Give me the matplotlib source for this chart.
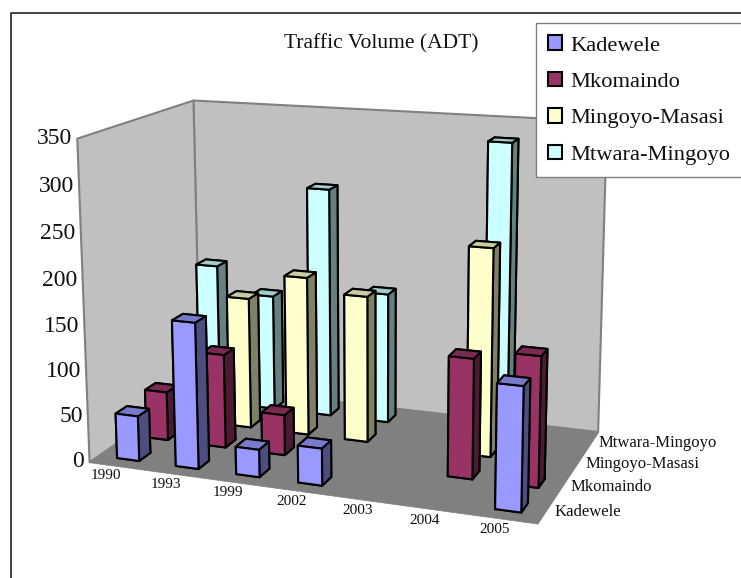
import numpy as np
import matplotlib
matplotlib.use("Agg")
import matplotlib.pyplot as plt
from matplotlib.patches import Patch
from matplotlib.lines import Line2D
from mpl_toolkits.mplot3d.art3d import Poly3DCollection

plt.rcParams['font.family'] = ['Liberation Serif', 'DejaVu Serif']

years = ['1990', '1993', '1999', '2002', '2003', '2004', '2005']
roads = ['Kadewele', 'Mkomaindo', 'Mingoyo-Masasi', 'Mtwara-Mingoyo']
z_ticks = [0, 50, 100, 150, 200, 250, 300, 350]

# ADT per year, 0 means no count that year
kadewele = [50, 160, 30, 40, 0, 0, 130]
mkomaindo = [55, 105, 45, 0, 0, 130, 140]
mingoyo_masasi = [0, 150, 180, 165, 0, 230, 0]
mtwara_mingoyo = [165, 135, 265, 0, 150, 330, 0]
mtwara_mingoyo = [165, 135, 265, 150, 0, 330, 0]

front_colors = ['#9999FF', '#993366', '#FFFFCC', '#CCFFFF']
top_colors = ['#7A7ACC', '#7A2952', '#CCCCA3', '#A3CCCC']
side_colors = ['#4D4D80', '#4D1A33', '#808066', '#668080']

W, H = 741, 578
n_x, n_y, z_max = len(years), len(roads), z_ticks[-1]

# camera anchors: box corner (x, y, z) -> pixel position on the page
world_pts = np.array([
    [0, 0, 0], [n_x, 0, 0], [n_x, n_y, 0], [0, n_y, 0],
    [0, 0, z_max], [0, n_y, z_max], [n_x, n_y, z_max],
    [0, 0, 200], [0, 0, 100], [n_x, 1, 0], [n_x, 2, 0], [n_x, 3, 0],
], dtype=float)
pixel_pts = np.array([
    [89, 463], [537, 523], [598, 433], [200.5, 384.5],
    [77.5, 138], [193, 101], [607, 121.5],
    [83.3, 281], [86, 373], [555, 497], [569.7, 475], [584.7, 453],
], dtype=float)


def fit_camera(world, pixel):
    # plain DLT, z scaled down so the system is not badly conditioned
    scale = np.diag([1, 1, 1 / 50, 1])
    rows = []
    for (x, y, z), (u, v) in zip(world, pixel):
        p = scale @ [x, y, z, 1]
        rows.append(np.r_[p, np.zeros(4), -u * p])
        rows.append(np.r_[np.zeros(4), p, -v * p])
    cam = np.linalg.svd(np.array(rows))[2][-1].reshape(3, 4) @ scale
    centre = np.array([n_x / 2, n_y / 2, 0, 1])
    return cam / (cam[2] @ centre)


fig = plt.figure(figsize=(W / 100, H / 100), dpi=100)
# mplot3d forces a square panel, so make it as wide as the page
ax = fig.add_axes([0, -(W - H) / 2 / H, 1, W / H], projection='3d', computed_zorder=False)
ax.set_axis_off()
ax.patch.set_alpha(0)

cam = fit_camera(world_pts, pixel_pts)
vl = ax.viewLim
page_to_view = np.array([
    [vl.width / W, 0, vl.x0],
    [0, -vl.height / W, vl.y0 + (H + (W - H) / 2) / W * vl.height],
    [0, 0, 1],
])
view_cam = page_to_view @ cam
proj = np.vstack([view_cam[0], view_cam[1], view_cam[2] - [0, 0, 0, 0.5], view_cam[2]])
ax.get_proj = lambda: proj

# walls and floor
floor = [[(0, 0, 0), (n_x, 0, 0), (n_x, n_y, 0), (0, n_y, 0)]]
left_wall = [[(0, 0, 0), (0, n_y, 0), (0, n_y, z_max), (0, 0, z_max)]]
back_wall = [[(0, n_y, 0), (n_x, n_y, 0), (n_x, n_y, z_max), (0, n_y, z_max)]]
ax.add_collection3d(Poly3DCollection(left_wall + back_wall, facecolor='#C0C0C0',
                                     edgecolor='#808080', linewidth=1.5, zorder=1))
ax.add_collection3d(Poly3DCollection(floor, facecolor='#808080', edgecolor='#808080',
                                     linewidth=0.5, zorder=2))

# gridlines along both walls
for v in z_ticks[1:-1]:
    ax.plot([0, 0, n_x], [0, n_y, n_y], [v, v, v], color='black', lw=1, zorder=3)

# axis lines and ticks
ax.plot([0, 0], [0, 0], [0, z_max], color='#222222', lw=1.2, zorder=4)
ax.plot([0, n_x, n_x], [0, 0, n_y], [0, 0, 0], color='black', lw=1.2, zorder=4)
for v in z_ticks:
    ax.plot([-0.06, 0], [0, 0], [v, v], color='black', lw=1, zorder=4)
    ax.text(-0.09, 0, v, str(v), fontsize=17, ha='right', va='center', color='#111111')
for i, year in enumerate(years):
    ax.plot([i + 1, i + 1], [0, 0.22], [0, 0], color='black', lw=1, zorder=4)
    ax.text(i + 0.5, -0.42, 0, year, fontsize=11, ha='center', va='center', color='#111111')
for j, road in enumerate(roads):
    ax.plot([n_x - 0.2, n_x], [j + 1, j + 1], [0, 0], color='black', lw=1, zorder=4)
    ax.text(n_x + 0.12, j + 0.5, 0, road, fontsize=12, ha='left', va='center', color='#111111')

# bars, back row first and left to right so nearer ones cover farther ones
series = [kadewele, mkomaindo, mingoyo_masasi, mtwara_mingoyo]
bar_w, bar_d = 0.38, 0.38
for j in range(n_y - 1, -1, -1):
    for i, val in enumerate(series[j]):
        if val == 0:
            continue
        # bar3d faces: bottom, top, front, back, left, right
        colors = [side_colors[j], top_colors[j], front_colors[j],
                  side_colors[j], side_colors[j], side_colors[j]]
        bar = ax.bar3d(i + 0.5 - bar_w / 2, j + 0.5 - bar_d / 2, 0, bar_w, bar_d, val,
                       color=colors, edgecolor='black', linewidth=1.5, shade=False)
        bar.set_zorder(10 + (n_y - j) * 10 + i)

ax.set_xlim(0, n_x)
ax.set_ylim(0, n_y)
ax.set_zlim(0, z_max)

# chart area border, only top and left show on the page
fig.add_artist(Line2D([11 / W, 11 / W, 1], [0, 1 - 13 / H, 1 - 13 / H], color='#222222', lw=1.2))

fig.text(381 / W, 1 - 44 / H, 'Traffic Volume (ADT)', fontsize=15.5, ha='center', va='center',
         color='#111111')

handles = [Patch(facecolor=c, edgecolor='black', linewidth=1.5) for c in front_colors]
fig.legend(handles, roads, loc='upper left', bbox_to_anchor=(536 / W, 1 - 23 / H),
           borderaxespad=0, fancybox=False, framealpha=1, edgecolor='#808080',
           fontsize=16.2, handlelength=0.62, handleheight=0.62, handletextpad=0.35,
           labelspacing=0.72, borderpad=0.55, labelcolor='#111111')

fig.savefig('out.png', dpi=100)
